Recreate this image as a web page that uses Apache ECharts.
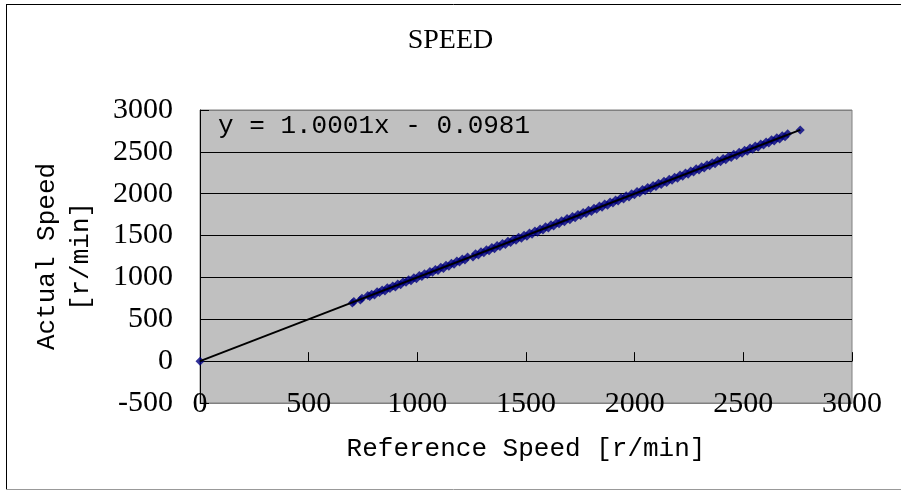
<!DOCTYPE html>
<html>
<head>
<meta charset="utf-8">
<script src="https://cdn.jsdelivr.net/npm/echarts@6/dist/echarts.min.js"></script>
<style>
  html, body { margin: 0; padding: 0; background: #fff; }
  #chart { width: 901px; height: 492px; }
</style>
</head>
<body>
<div id="chart"></div>
<script>
var refSpeed = [
  0, 701, 708, 738, 745, 772, 781, 790, 803, 815,
  826, 838, 851, 862, 874, 887, 899, 910, 923, 935,
  948, 960, 971, 984, 996, 1009, 1021, 1033, 1046, 1058,
  1070, 1083, 1095, 1108, 1120, 1132, 1145, 1157, 1169, 1182,
  1194, 1207, 1219, 1231, 1256, 1268, 1281, 1293, 1306, 1318,
  1330, 1343, 1355, 1367, 1380, 1392, 1405, 1417, 1429, 1442,
  1454, 1466, 1479, 1491, 1504, 1516, 1528, 1541, 1553, 1565,
  1578, 1590, 1603, 1615, 1627, 1640, 1652, 1664, 1677, 1689,
  1702, 1714, 1726, 1739, 1751, 1763, 1776, 1788, 1801, 1813,
  1825, 1838, 1850, 1862, 1875, 1887, 1900, 1912, 1924, 1937,
  1949, 1961, 1974, 1986, 1999, 2011, 2023, 2036, 2048, 2060,
  2073, 2085, 2098, 2110, 2122, 2135, 2147, 2159, 2172, 2184,
  2197, 2209, 2221, 2234, 2246, 2258, 2271, 2283, 2296, 2308,
  2320, 2333, 2345, 2357, 2370, 2382, 2395, 2407, 2419, 2432,
  2444, 2456, 2469, 2481, 2494, 2506, 2518, 2531, 2543, 2555,
  2568, 2580, 2593, 2605, 2617, 2630, 2642, 2654, 2667, 2679,
  2692, 2704, 2762
];
var actualSpeed = [
  0, 694, 713, 731, 750, 784, 772, 798, 791, 829,
  820, 851, 839, 876, 868, 899, 887, 922, 912, 949,
  941, 972, 961, 997, 985, 1023, 1010, 1045, 1034, 1072,
  1061, 1096, 1083, 1121, 1108, 1146, 1133, 1170, 1158, 1195,
  1184, 1220, 1207, 1245, 1244, 1282, 1269, 1306, 1295, 1331,
  1319, 1357, 1343, 1381, 1368, 1405, 1394, 1431, 1417, 1455,
  1443, 1480, 1467, 1505, 1492, 1530, 1516, 1555, 1541, 1578,
  1567, 1604, 1591, 1629, 1615, 1654, 1640, 1677, 1666, 1703,
  1690, 1728, 1714, 1753, 1739, 1777, 1764, 1802, 1789, 1826,
  1813, 1852, 1838, 1876, 1863, 1901, 1888, 1926, 1912, 1951,
  1937, 1975, 1962, 2000, 1987, 2025, 2011, 2050, 2036, 2074,
  2061, 2099, 2086, 2124, 2110, 2149, 2135, 2173, 2160, 2198,
  2185, 2223, 2209, 2248, 2234, 2272, 2259, 2297, 2284, 2322,
  2308, 2347, 2333, 2371, 2358, 2396, 2383, 2421, 2407, 2446,
  2432, 2470, 2457, 2495, 2482, 2520, 2506, 2545, 2531, 2569,
  2556, 2594, 2581, 2619, 2605, 2644, 2630, 2668, 2655, 2693,
  2680, 2716, 2760
];
// linear trend line end points (y = 1.0001x - 0.0981)
var trendX = [0, 2762];
var trendY = [-0.1, 2762.1];
var equationText = 'y = 1.0001x - 0.0981';

var chart = echarts.init(document.getElementById('chart'));

var points = refSpeed.map(function (x, i) { return [x, actualSpeed[i]]; });
var trend = trendX.map(function (x, i) { return [x, trendY[i]]; });

var serif = 'Liberation Serif';
var mono = 'Liberation Mono';
var plain = function (v) { return String(v); };

var option = {
  animation: false,
  backgroundColor: '#ffffff',
  title: {
    text: 'SPEED',
    left: 'center',
    top: 22,
    textStyle: { fontFamily: serif, fontSize: 28, fontWeight: 'normal', color: '#000' }
  },
  grid: {
    left: 200, top: 110, right: 49, bottom: 89,
    show: true,
    backgroundColor: '#c0c0c0',
    borderColor: '#808080',
    borderWidth: 1
  },
  xAxis: [
    {
      type: 'value',
      min: 0, max: 3000, interval: 500,
      position: 'bottom',
      name: 'Reference Speed [r/min]',
      nameLocation: 'middle',
      nameGap: 33,
      nameTextStyle: { fontFamily: mono, fontSize: 26, color: '#000' },
      axisLine: { show: true, onZero: false, lineStyle: { color: '#808080', width: 1 } },
      axisTick: { show: false },
      splitLine: { show: false },
      axisLabel: { fontFamily: serif, fontSize: 30, color: '#000', margin: -14, formatter: plain }
    },
    {
      type: 'value',
      min: 0, max: 3000, interval: 500,
      position: 'top',
      axisLine: { show: true, onZero: true, onZeroAxisIndex: 0, lineStyle: { color: '#000', width: 1 } },
      axisTick: { show: true, inside: false, length: 9, lineStyle: { color: '#000', width: 1 } },
      axisLabel: { show: false },
      splitLine: { show: false }
    }
  ],
  yAxis: {
    type: 'value',
    min: -500, max: 3000, interval: 500,
    name: 'Actual Speed\n[r/min]',
    nameLocation: 'middle',
    nameGap: 102,
    nameRotate: 90,
    nameTextStyle: { fontFamily: mono, fontSize: 26, color: '#000', lineHeight: 34 },
    axisLine: { show: true, onZero: false, lineStyle: { color: '#000', width: 1 } },
    axisTick: { show: true, inside: true, length: 9, lineStyle: { color: '#000' } },
    axisLabel: { fontFamily: serif, fontSize: 30, color: '#000', margin: 27, formatter: plain },
    splitLine: {
      show: true,
      lineStyle: {
        color: ['#808080', '#000', '#000', '#000', '#000', '#000', '#000', '#808080'],
        width: 1
      }
    }
  },
  graphic: [
    { type: 'line', silent: true, shape: { x1: 6, y1: 4.5, x2: 901, y2: 4.5 }, style: { stroke: '#000', lineWidth: 1 } },
    { type: 'line', silent: true, shape: { x1: 6.5, y1: 4, x2: 6.5, y2: 489 }, style: { stroke: '#000', lineWidth: 1 } },
    { type: 'line', silent: true, shape: { x1: 6, y1: 489.5, x2: 901, y2: 489.5 }, style: { stroke: '#999', lineWidth: 1 } },
    {
      type: 'text', silent: true, left: 218, top: 113, z: 10,
      style: { text: equationText, fontFamily: mono, fontSize: 26, fill: '#000' }
    }
  ],
  series: [
    {
      name: 'Actual Speed',
      type: 'scatter',
      xAxisIndex: 0,
      data: points,
      symbol: 'diamond',
      symbolSize: 9,
      itemStyle: { color: '#000080' },
      z: 2
    },
    {
      name: 'Trend',
      type: 'line',
      xAxisIndex: 0,
      data: trend,
      symbol: 'none',
      lineStyle: { color: '#000', width: 2 },
      z: 3
    }
  ]
};

chart.setOption(option);
</script>
</body>
</html>
